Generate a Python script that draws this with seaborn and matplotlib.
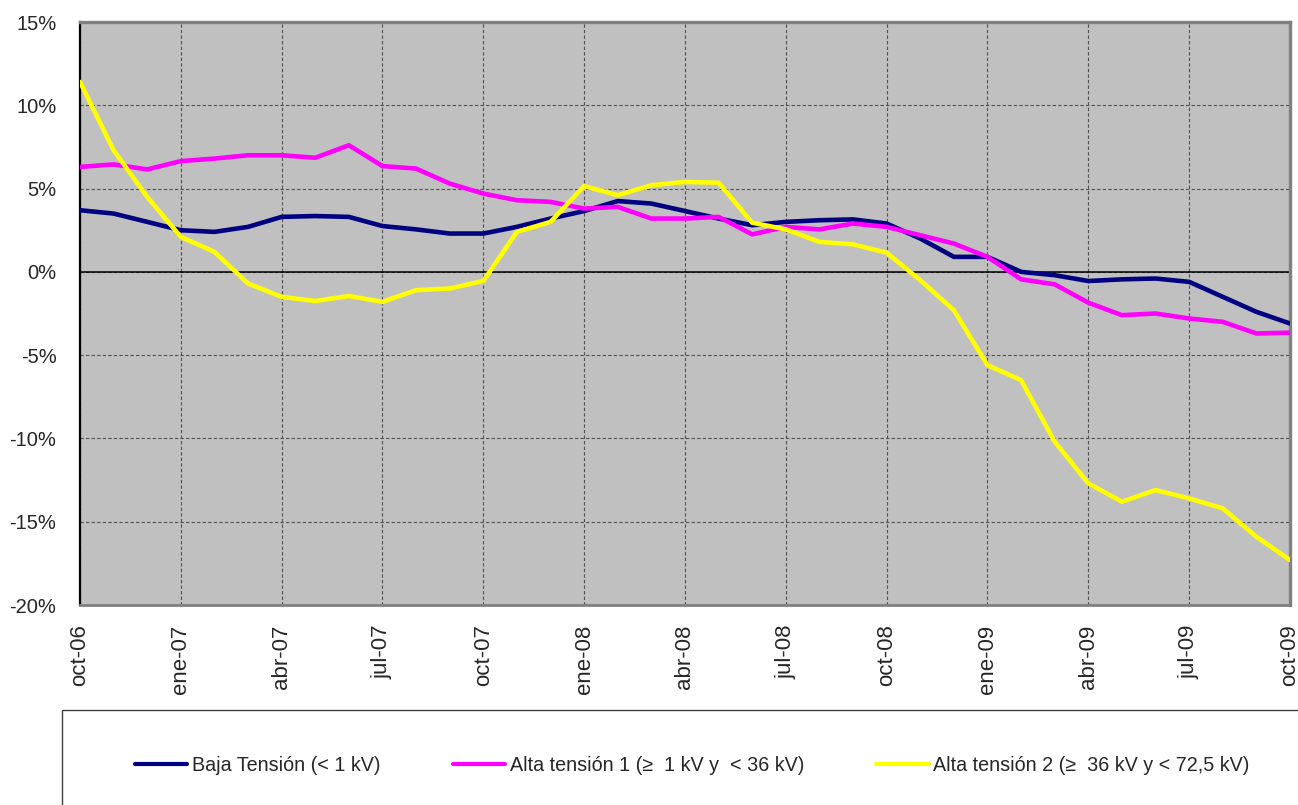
import matplotlib
matplotlib.use("Agg")
import matplotlib.pyplot as plt
import seaborn as sns
import pandas as pd
import numpy as np
from matplotlib.patches import Rectangle
from matplotlib.lines import Line2D
from matplotlib.ticker import FuncFormatter, MultipleLocator

months = ["oct-06", "nov-06", "dic-06", "ene-07", "feb-07", "mar-07", "abr-07", "may-07", "jun-07",
          "jul-07", "ago-07", "sep-07", "oct-07", "nov-07", "dic-07", "ene-08", "feb-08", "mar-08",
          "abr-08", "may-08", "jun-08", "jul-08", "ago-08", "sep-08", "oct-08", "nov-08", "dic-08",
          "ene-09", "feb-09", "mar-09", "abr-09", "may-09", "jun-09", "jul-09", "ago-09", "sep-09", "oct-09"]

baja = [3.7, 3.5, 3.0, 2.5, 2.4, 2.7, 3.3, 3.35, 3.3, 2.75, 2.55, 2.3, 2.3, 2.7, 3.2, 3.65, 4.25, 4.1,
        3.65, 3.2, 2.8, 3.0, 3.1, 3.15, 2.9, 2.0, 0.9, 0.9, 0.0, -0.2, -0.55, -0.45, -0.4, -0.6, -1.5, -2.4, -3.1]
alta1 = [6.3, 6.45, 6.15, 6.65, 6.8, 7.0, 7.0, 6.85, 7.6, 6.35, 6.2, 5.3, 4.7, 4.3, 4.2, 3.8, 3.9, 3.2,
         3.2, 3.3, 2.25, 2.7, 2.55, 2.9, 2.7, 2.2, 1.7, 0.9, -0.45, -0.75, -1.85, -2.6, -2.5, -2.8, -3.0, -3.7, -3.65]
alta2 = [11.4, 7.3, 4.5, 2.1, 1.2, -0.7, -1.5, -1.75, -1.45, -1.8, -1.1, -1.0, -0.55, 2.4, 3.0, 5.15, 4.6, 5.2,
         5.4, 5.35, 2.95, 2.55, 1.8, 1.65, 1.15, -0.5, -2.3, -5.6, -6.5, -10.2, -12.7, -13.8, -13.1, -13.6, -14.2, -15.9, -17.3]

series_names = ["Baja Tensión (< 1 kV)",
                "Alta tensión 1 (≥  1 kV y  < 36 kV)",
                "Alta tensión 2 (≥  36 kV y < 72,5 kV)"]
colors = ["#000080", "#FF00FF", "#FFFF00"]

tick_labels = ["oct-06", "ene-07", "abr-07", "jul-07", "oct-07", "ene-08", "abr-08",
               "jul-08", "oct-08", "ene-09", "abr-09", "jul-09", "oct-09"]

idx = np.arange(len(months))
df = pd.concat([
    pd.DataFrame({"x": idx, "value": vals, "serie": name})
    for vals, name in zip([baja, alta1, alta2], series_names)
], ignore_index=True)

sns.set_style("white")
plt.rcParams["font.family"] = ["Liberation Sans", "DejaVu Sans"]

fig = plt.figure(figsize=(12.98, 8.05), dpi=100)
ax = fig.add_axes([80/1298, 1-605/805, (1290-80)/1298, (605-22)/805])
ax.set_facecolor("#C0C0C0")

sns.lineplot(data=df, x="x", y="value", hue="serie", palette=colors, hue_order=series_names,
             linewidth=3.3, ax=ax, legend=False, zorder=3)

ax.set_xlim(0, 36)
ax.set_ylim(-20, 15)
ax.set_xticks(np.arange(0, 37, 3))
ax.set_xticklabels(tick_labels, rotation=90, fontsize=16, va="top", ha="center")
ax.yaxis.set_major_locator(MultipleLocator(5))
ax.yaxis.set_major_formatter(FuncFormatter(lambda v, p: f"{int(round(v))}%"))
ax.tick_params(axis="y", labelsize=14.5, length=5, width=1, color="black", direction="out", pad=12)
ax.tick_params(axis="x", length=0, pad=14)
ax.set_xlabel("")
ax.set_ylabel("")

ax.grid(True, which="major", color="#505050", linestyle=(0, (3, 2)), linewidth=0.8, zorder=1)
ax.set_axisbelow(True)
ax.axhline(0, color="black", linewidth=1.1, zorder=2)

for s in ["top", "right"]:
    ax.spines[s].set_color("#808080")
    ax.spines[s].set_linewidth(2.4)
ax.spines["bottom"].set_color("#808080")
ax.spines["bottom"].set_linewidth(2.0)
ax.spines["left"].set_color("black")
ax.spines["left"].set_linewidth(1.6)

# legend box frame
fig.patches.append(Rectangle((62/1298, -0.2), 1.2, (805-710)/805 + 0.2, transform=fig.transFigure,
                             fill=False, edgecolor="#404040", linewidth=1.0))

handles = [Line2D([0], [0], color=c, linewidth=3) for c in colors]
fig.legend(handles, series_names, loc="center left", bbox_to_anchor=(135/1298, 1-765/805),
           ncol=3, frameon=False, fontsize=14.2, handlelength=2.65, handletextpad=0.25,
           columnspacing=3.65, borderpad=0, borderaxespad=0)

fig.savefig("out.png", dpi=100)
